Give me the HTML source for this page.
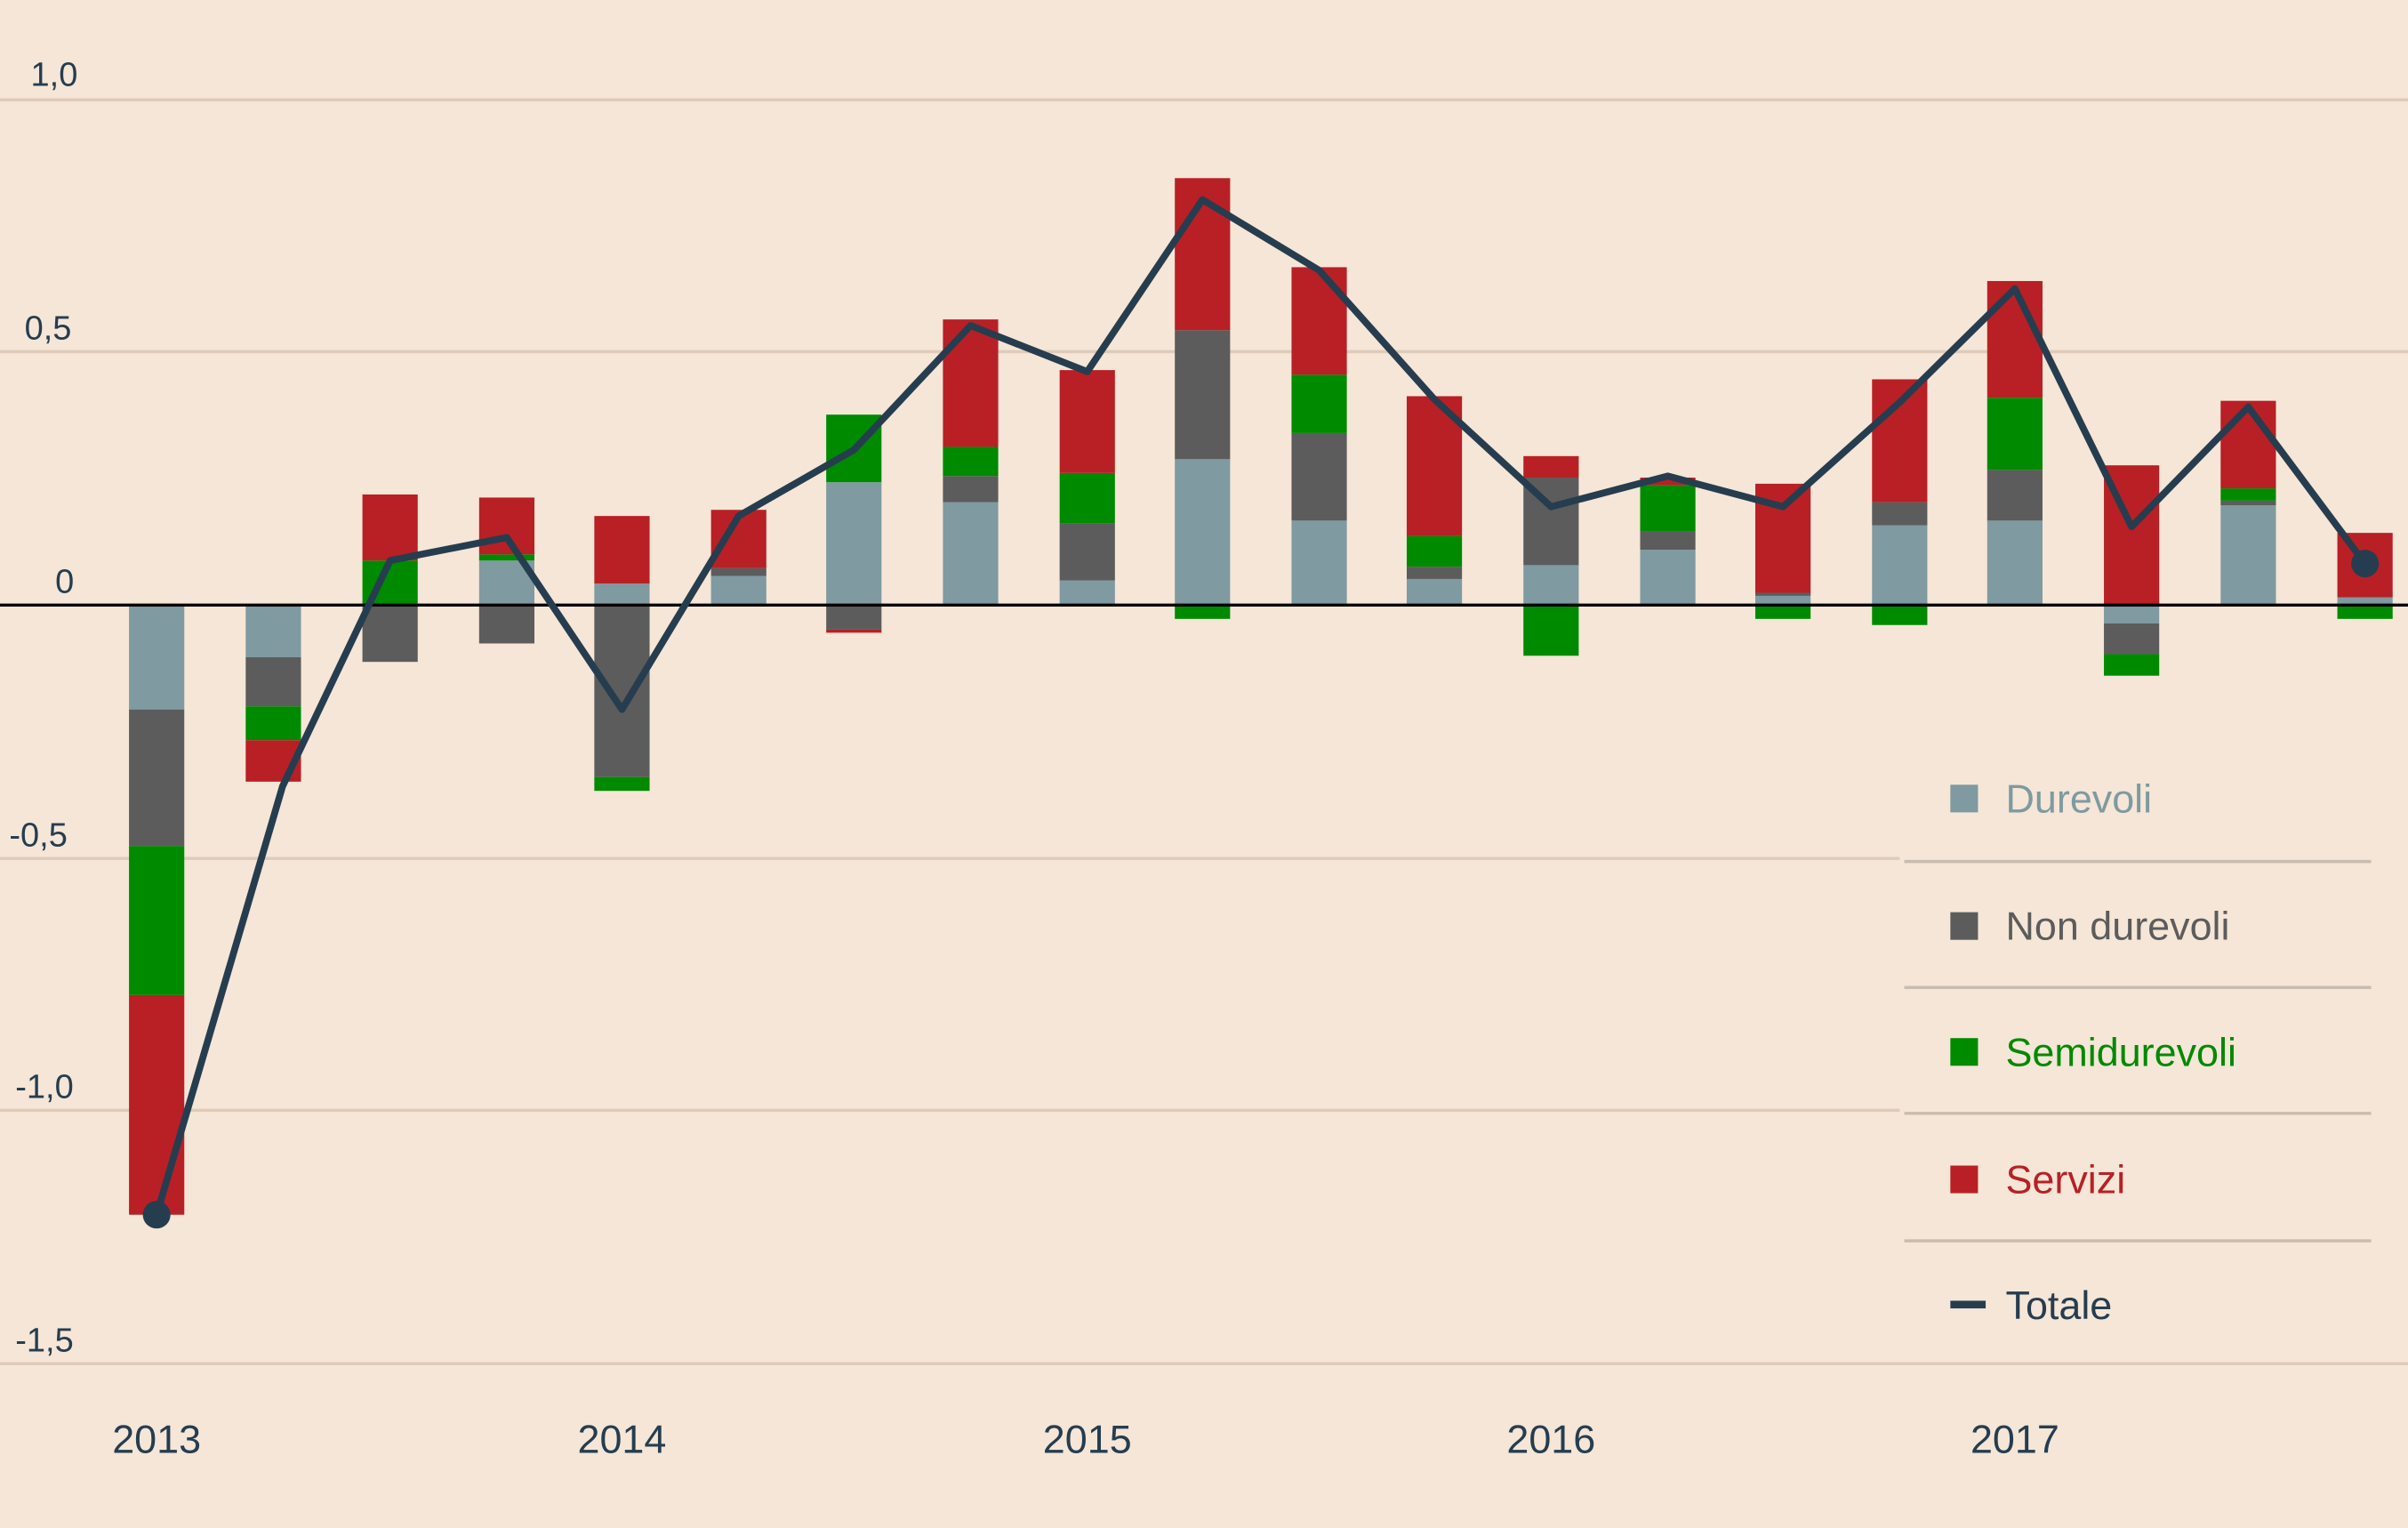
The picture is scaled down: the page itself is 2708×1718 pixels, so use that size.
<!DOCTYPE html>
<html><head><meta charset="utf-8"><style>
html,body{margin:0;padding:0;background:#f5e6d7;}
svg{display:block}
text{font-family:"Liberation Sans",sans-serif;}
</style></head><body>
<svg width="2708" height="1718" viewBox="0 0 1568 995" preserveAspectRatio="none" xmlns="http://www.w3.org/2000/svg">
<rect width="1568" height="995" fill="#f5e6d7"/>
<g stroke="#e0cbb8" stroke-width="2">
<line x1="0" y1="65" x2="1568" y2="65"/>
<line x1="0" y1="229" x2="1568" y2="229"/>
<line x1="0" y1="559" x2="1237" y2="559"/>
<line x1="0" y1="723" x2="1237" y2="723"/>
<line x1="0" y1="888" x2="1568" y2="888"/>
</g>
<g fill="#263d4f" font-size="22">
<text x="20" y="56">1,0</text>
<text x="16" y="221">0,5</text>
<text x="36" y="386">0</text>
<text x="6" y="551">-0,5</text>
<text x="10" y="715">-1,0</text>
<text x="10" y="880">-1,5</text>
</g>
<g fill="#263d4f" font-size="26" text-anchor="middle">
<text x="102" y="946">2013</text><text x="405" y="946">2014</text><text x="708" y="946">2015</text><text x="1010" y="946">2016</text><text x="1312" y="946">2017</text>
</g>
<g>
<!-- 1 -->
<rect x="84" y="394" width="36" height="68" fill="#7f9aa0"/>
<rect x="84" y="462" width="36" height="89" fill="#5c5c5c"/>
<rect x="84" y="551" width="36" height="97" fill="#008a00"/>
<rect x="84" y="648" width="36" height="143" fill="#b82025"/>
<!-- 2 -->
<rect x="160" y="394" width="36" height="34" fill="#7f9aa0"/>
<rect x="160" y="428" width="36" height="32" fill="#5c5c5c"/>
<rect x="160" y="460" width="36" height="22" fill="#008a00"/>
<rect x="160" y="482" width="36" height="27" fill="#b82025"/>
<!-- 3 -->
<rect x="236" y="365" width="36" height="29" fill="#008a00"/>
<rect x="236" y="322" width="36" height="43" fill="#b82025"/>
<rect x="236" y="394" width="36" height="37" fill="#5c5c5c"/>
<!-- 4 -->
<rect x="312" y="365" width="36" height="29" fill="#7f9aa0"/>
<rect x="312" y="361" width="36" height="4" fill="#008a00"/>
<rect x="312" y="324" width="36" height="37" fill="#b82025"/>
<rect x="312" y="394" width="36" height="25" fill="#5c5c5c"/>
<!-- 5 -->
<rect x="387" y="380" width="36" height="14" fill="#7f9aa0"/>
<rect x="387" y="336" width="36" height="44" fill="#b82025"/>
<rect x="387" y="394" width="36" height="112" fill="#5c5c5c"/>
<rect x="387" y="506" width="36" height="9" fill="#008a00"/>
<!-- 6 -->
<rect x="463" y="375" width="36" height="19" fill="#7f9aa0"/>
<rect x="463" y="370" width="36" height="5" fill="#5c5c5c"/>
<rect x="463" y="332" width="36" height="38" fill="#b82025"/>
<!-- 7 -->
<rect x="538" y="314" width="36" height="80" fill="#7f9aa0"/>
<rect x="538" y="270" width="36" height="44" fill="#008a00"/>
<rect x="538" y="394" width="36" height="16" fill="#5c5c5c"/>
<rect x="538" y="410" width="36" height="2" fill="#b82025"/>
<!-- 8 -->
<rect x="614" y="327" width="36" height="67" fill="#7f9aa0"/>
<rect x="614" y="310" width="36" height="17" fill="#5c5c5c"/>
<rect x="614" y="291" width="36" height="19" fill="#008a00"/>
<rect x="614" y="208" width="36" height="83" fill="#b82025"/>
<!-- 9 -->
<rect x="690" y="378" width="36" height="16" fill="#7f9aa0"/>
<rect x="690" y="341" width="36" height="37" fill="#5c5c5c"/>
<rect x="690" y="308" width="36" height="33" fill="#008a00"/>
<rect x="690" y="241" width="36" height="67" fill="#b82025"/>
<!-- 10 -->
<rect x="765" y="299" width="36" height="95" fill="#7f9aa0"/>
<rect x="765" y="215" width="36" height="84" fill="#5c5c5c"/>
<rect x="765" y="116" width="36" height="99" fill="#b82025"/>
<rect x="765" y="394" width="36" height="9" fill="#008a00"/>
<!-- 11 -->
<rect x="841" y="339" width="36" height="55" fill="#7f9aa0"/>
<rect x="841" y="282" width="36" height="57" fill="#5c5c5c"/>
<rect x="841" y="244" width="36" height="38" fill="#008a00"/>
<rect x="841" y="174" width="36" height="70" fill="#b82025"/>
<!-- 12 -->
<rect x="916" y="377" width="36" height="17" fill="#7f9aa0"/>
<rect x="916" y="369" width="36" height="8" fill="#5c5c5c"/>
<rect x="916" y="349" width="36" height="20" fill="#008a00"/>
<rect x="916" y="258" width="36" height="91" fill="#b82025"/>
<!-- 13 -->
<rect x="992" y="368" width="36" height="26" fill="#7f9aa0"/>
<rect x="992" y="311" width="36" height="57" fill="#5c5c5c"/>
<rect x="992" y="297" width="36" height="14" fill="#b82025"/>
<rect x="992" y="394" width="36" height="33" fill="#008a00"/>
<!-- 14 -->
<rect x="1068" y="358" width="36" height="36" fill="#7f9aa0"/>
<rect x="1068" y="346" width="36" height="12" fill="#5c5c5c"/>
<rect x="1068" y="316" width="36" height="30" fill="#008a00"/>
<rect x="1068" y="311" width="36" height="5" fill="#b82025"/>
<!-- 15 -->
<rect x="1143" y="388" width="36" height="6" fill="#7f9aa0"/>
<rect x="1143" y="386" width="36" height="2" fill="#5c5c5c"/>
<rect x="1143" y="315" width="36" height="71" fill="#b82025"/>
<rect x="1143" y="394" width="36" height="9" fill="#008a00"/>
<!-- 16 -->
<rect x="1219" y="342" width="36" height="52" fill="#7f9aa0"/>
<rect x="1219" y="327" width="36" height="15" fill="#5c5c5c"/>
<rect x="1219" y="247" width="36" height="80" fill="#b82025"/>
<rect x="1219" y="394" width="36" height="13" fill="#008a00"/>
<!-- 17 -->
<rect x="1294" y="339" width="36" height="55" fill="#7f9aa0"/>
<rect x="1294" y="306" width="36" height="33" fill="#5c5c5c"/>
<rect x="1294" y="259" width="36" height="47" fill="#008a00"/>
<rect x="1294" y="183" width="36" height="76" fill="#b82025"/>
<!-- 18 -->
<rect x="1370" y="303" width="36" height="91" fill="#b82025"/>
<rect x="1370" y="394" width="36" height="12" fill="#7f9aa0"/>
<rect x="1370" y="406" width="36" height="20" fill="#5c5c5c"/>
<rect x="1370" y="426" width="36" height="14" fill="#008a00"/>
<!-- 19 -->
<rect x="1446" y="329" width="36" height="65" fill="#7f9aa0"/>
<rect x="1446" y="326" width="36" height="3" fill="#5c5c5c"/>
<rect x="1446" y="318" width="36" height="8" fill="#008a00"/>
<rect x="1446" y="261" width="36" height="57" fill="#b82025"/>
<!-- 20 -->
<rect x="1522" y="389" width="36" height="5" fill="#7f9aa0"/>
<rect x="1522" y="347" width="36" height="42" fill="#b82025"/>
<rect x="1522" y="394" width="36" height="9" fill="#008a00"/>
</g>
<line x1="0" y1="394" x2="1568" y2="394" stroke="#000" stroke-width="2"/>
<polyline fill="none" stroke="#263d4f" stroke-width="4.5" stroke-linejoin="round" points="102,791 184,512 254,365 330,350 405,462 481,336 556,293 632,212 708,242 783,130 859,176 934,260 1010,330 1086,310 1161,330 1237,262 1312,188 1388,343 1464,265 1540,367"/>
<circle cx="102" cy="791" r="9" fill="#263d4f"/>
<circle cx="1540" cy="367" r="9" fill="#263d4f"/>
<g font-size="26">
<rect x="1270" y="511" width="18" height="18" fill="#7f9aa0"/><text x="1306" y="529" fill="#7f9aa0">Durevoli</text>
<rect x="1270" y="594" width="18" height="18" fill="#5c5c5c"/><text x="1306" y="612" fill="#5c5c5c">Non durevoli</text>
<rect x="1270" y="676" width="18" height="18" fill="#008a00"/><text x="1306" y="694" fill="#008a00">Semidurevoli</text>
<rect x="1270" y="759" width="18" height="18" fill="#b82025"/><text x="1306" y="777" fill="#b82025">Servizi</text>
<rect x="1270" y="847" width="23" height="5" fill="#263d4f"/><text x="1306" y="859" fill="#263d4f">Totale</text>
</g>
<g stroke="#c9bcb0" stroke-width="2">
<line x1="1240" y1="561" x2="1544" y2="561"/><line x1="1240" y1="643" x2="1544" y2="643"/>
<line x1="1240" y1="725" x2="1544" y2="725"/><line x1="1240" y1="808" x2="1544" y2="808"/>
</g>
</svg>
</body></html>
